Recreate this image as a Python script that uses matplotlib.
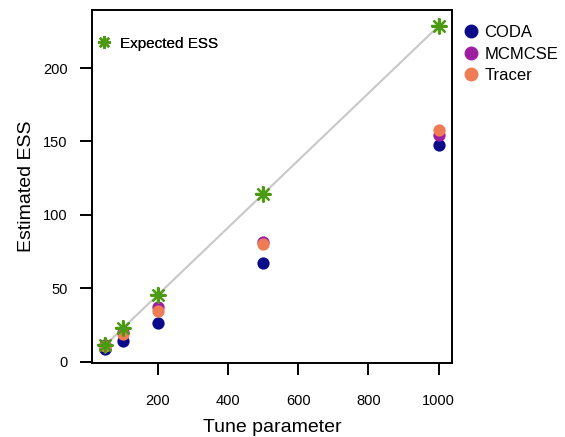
import numpy as np
import matplotlib.pyplot as plt
from matplotlib.lines import Line2D

plt.rcParams['font.family'] = ['Liberation Sans', 'DejaVu Sans']

# data
tune = [50, 100, 200, 500, 1000]
expected = [11.4, 22.9, 45.7, 114.3, 228.6]
coda = [8.5, 14, 26.5, 67, 147.5]
mcmcse = [11.5, 20, 37, 81.5, 154.5]
tracer = [11, 19, 34.5, 80, 157.5]

col_coda = '#0c0c8a'
col_mcmcse = '#9e1ea2'
col_tracer = '#ee7c55'
col_exp = '#4c9a12'

fig = plt.figure(figsize=(5.65, 4.37), dpi=100)
ax = fig.add_axes([92/565, 1 - 363/437, 360/565, 353/437])

ax.plot(tune, expected, color='#c8c8c8', lw=1.5, zorder=1)
ax.scatter(tune, coda, s=78, color=col_coda, zorder=2, linewidths=0)
ax.scatter(tune, mcmcse, s=78, color=col_mcmcse, zorder=3, linewidths=0)
ax.scatter(tune, tracer, s=78, color=col_tracer, zorder=4, linewidths=0)
ax.scatter(tune, expected, s=110, marker=(8, 2, 0), color=col_exp, linewidths=1.6, zorder=5)
ax.scatter(tune, expected, s=110, marker=(4, 2, 0), color=col_exp, linewidths=1.6, zorder=5)

ax.set_xlim(12, 1038)
ax.set_ylim(-0.8, 239.5)
ax.set_xticks([200, 400, 600, 800, 1000])
ax.set_yticks([0, 50, 100, 150, 200])
for s in ax.spines.values():
    s.set_linewidth(1.4)
ax.tick_params(direction='out', length=8.5, width=1.4, labelsize=10.5)
ax.tick_params(axis='x', pad=14)
ax.tick_params(axis='y', pad=9)

ax.set_xlabel('Tune parameter', fontsize=14, labelpad=8)
ax.set_ylabel('Estimated ESS', fontsize=14, labelpad=6)

# inset legend for expected ESS
h_exp = Line2D([], [], ls='none', marker=(8, 2, 0), color=col_exp, ms=9, mew=1.6)
leg1 = ax.legend([h_exp], ['Expected ESS'], loc='upper left', frameon=False,
                 fontsize=11, bbox_to_anchor=(0.0075, 0.924), handletextpad=0.45,
                 handlelength=1.2, borderaxespad=0, borderpad=0)
ax.add_artist(leg1)

handles = [Line2D([], [], ls='none', marker='o', color=c, ms=9)
           for c in [col_coda, col_mcmcse, col_tracer]]
fig.legend(handles, ['CODA', 'MCMCSE', 'Tracer'], loc='upper left',
           bbox_to_anchor=(461/565, 1 - 25/437), frameon=False, fontsize=12,
           handletextpad=0.2, handlelength=1.2, labelspacing=0.4,
           borderaxespad=0, borderpad=0)

fig.savefig('out.png', dpi=100)
